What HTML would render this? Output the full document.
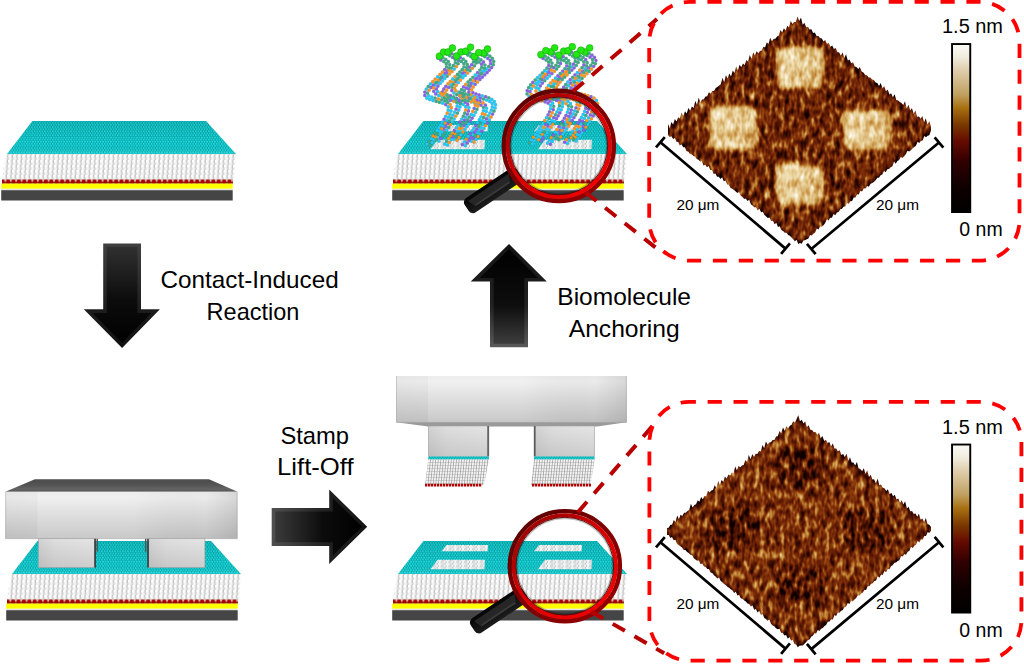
<!DOCTYPE html>
<html><head><meta charset="utf-8"><style>html,body{margin:0;padding:0;background:#fff;width:1024px;height:664px;overflow:hidden} svg{display:block}</style></head>
<body><svg width="1024" height="664" viewBox="0 0 1024 664"><defs>
<pattern id="tealPat" width="2.6" height="4.2" patternUnits="userSpaceOnUse">
  <rect width="2.6" height="4.2" fill="#089ea3"/>
  <circle cx="0.65" cy="1.05" r="1.05" fill="#12dadd"/>
  <circle cx="1.95" cy="3.15" r="1.05" fill="#12dadd"/>
  <circle cx="0.45" cy="0.8" r="0.4" fill="#60f0f2"/>
  <circle cx="1.75" cy="2.9" r="0.4" fill="#60f0f2"/>
</pattern>
<linearGradient id="sqG" x1="0" y1="0" x2="1" y2="0.6">
  <stop offset="0" stop-color="rgb(230,230,230)"/><stop offset="1" stop-color="rgb(200,200,200)"/>
</linearGradient>
<linearGradient id="tealShade" x1="0" y1="0" x2="0" y2="1">
  <stop offset="0" stop-color="#004040" stop-opacity="0.12"/><stop offset="0.7" stop-color="#004040" stop-opacity="0"/><stop offset="1" stop-color="#80ffff" stop-opacity="0.15"/>
</linearGradient>
<pattern id="whitePat" width="4.6" height="5" patternUnits="userSpaceOnUse" patternTransform="skewX(-4)">
  <rect width="4.6" height="5" fill="#dcdcdc"/>
  <circle cx="2.1" cy="1.25" r="1.6" fill="#ffffff"/>
  <circle cx="2.7" cy="3.75" r="1.6" fill="#f6f6f6"/>
  <path d="M0.3,0 L0.3,2.5" stroke="#999" stroke-width="0.5"/>
  <path d="M0.9,2.5 L0.9,5" stroke="#b0b0b0" stroke-width="0.5"/>
</pattern>
<pattern id="meshPat" width="2.6" height="3" patternUnits="userSpaceOnUse" patternTransform="skewX(-6)">
  <rect width="2.6" height="3" fill="#f4f4f4"/>
  <path d="M0.3,0 L0.3,3" stroke="#6a6a6a" stroke-width="0.5"/>
  <path d="M0,0.3 L2.6,0.3" stroke="#999" stroke-width="0.4"/>
</pattern>
<pattern id="patchPat" width="7.8" height="4.2" patternUnits="userSpaceOnUse">
  <rect width="7.8" height="4.2" fill="#9fb4b5"/>
  <circle cx="0.7" cy="1.0" r="1.35" fill="#f8f8f8"/>
  <circle cx="3.3" cy="1.2" r="1.35" fill="#f0f0f0"/>
  <circle cx="2.0" cy="3.1" r="1.35" fill="#fafafa"/>
  <circle cx="5.9" cy="0.9" r="1.3" fill="#e8e8e8"/>
  <circle cx="7.0" cy="3.0" r="1.3" fill="#f4f4f4"/>
  <circle cx="4.6" cy="3.2" r="1.2" fill="#dedede"/>
</pattern>
<pattern id="redPat" x="0" y="179.4" width="5.4" height="4.4" patternUnits="userSpaceOnUse">
  <rect width="5.4" height="4.4" fill="#e6e6e6"/>
  <rect y="2.5" width="5.4" height="1.9" fill="#6a5010"/>
  <circle cx="2.7" cy="2.4" r="2.3" fill="#a80000"/>
</pattern>

<linearGradient id="arrVo" x1="0" y1="0" x2="0" y2="1">
  <stop offset="0" stop-color="#404040"/><stop offset="0.6" stop-color="#1e1e1e"/><stop offset="1" stop-color="#111"/>
</linearGradient>
<linearGradient id="arrVi" x1="0" y1="0" x2="0" y2="1">
  <stop offset="0" stop-color="#303030"/><stop offset="0.55" stop-color="#0c0c0c"/><stop offset="1" stop-color="#000"/>
</linearGradient>
<linearGradient id="arrUo" x1="0" y1="1" x2="0" y2="0">
  <stop offset="0" stop-color="#5a5a5a"/><stop offset="0.4" stop-color="#222"/><stop offset="1" stop-color="#141414"/>
</linearGradient>
<linearGradient id="arrUi" x1="0" y1="1" x2="0" y2="0">
  <stop offset="0" stop-color="#3c3c3c"/><stop offset="0.4" stop-color="#0e0e0e"/><stop offset="1" stop-color="#000"/>
</linearGradient>
<linearGradient id="arrHo" x1="0" y1="0" x2="1" y2="0">
  <stop offset="0" stop-color="#505050"/><stop offset="0.55" stop-color="#222"/><stop offset="1" stop-color="#141414"/>
</linearGradient>
<linearGradient id="arrHi" x1="0" y1="0" x2="1" y2="0">
  <stop offset="0" stop-color="#3a3a3a"/><stop offset="0.55" stop-color="#0c0c0c"/><stop offset="1" stop-color="#000"/>
</linearGradient>

<linearGradient id="stampFace" x1="0" y1="0" x2="0" y2="1">
  <stop offset="0" stop-color="#ececec"/><stop offset="0.12" stop-color="#efefef"/><stop offset="0.45" stop-color="#dedede"/><stop offset="1" stop-color="#c4c4c4"/>
</linearGradient>
<linearGradient id="stampH" x1="0" y1="0" x2="1" y2="0">
  <stop offset="0" stop-color="#000" stop-opacity="0.03"/><stop offset="0.13" stop-color="#000" stop-opacity="0.02"/>
  <stop offset="0.14" stop-color="#fff" stop-opacity="0.08"/><stop offset="0.55" stop-color="#fff" stop-opacity="0.08"/>
  <stop offset="0.86" stop-color="#000" stop-opacity="0.02"/><stop offset="1" stop-color="#000" stop-opacity="0.1"/>
</linearGradient>
<linearGradient id="stampTop" x1="0" y1="0" x2="0" y2="1">
  <stop offset="0" stop-color="#4a4a4a"/><stop offset="0.5" stop-color="#555"/><stop offset="0.8" stop-color="#646464"/><stop offset="1" stop-color="#505050"/>
</linearGradient>
<linearGradient id="postG" x1="0" y1="0" x2="1" y2="0">
  <stop offset="0" stop-color="#d2d2d2"/><stop offset="0.3" stop-color="#dedede"/><stop offset="1" stop-color="#e4e4e4"/>
</linearGradient>
<linearGradient id="postV" x1="0" y1="0" x2="0" y2="1">
  <stop offset="0" stop-color="#000" stop-opacity="0"/><stop offset="1" stop-color="#000" stop-opacity="0.1"/>
</linearGradient>

<linearGradient id="ringO" x1="0.15" y1="0.1" x2="0.85" y2="0.9">
  <stop offset="0" stop-color="#5e0000"/><stop offset="0.5" stop-color="#7e0000"/><stop offset="1" stop-color="#900000"/>
</linearGradient>
<linearGradient id="ringI" x1="0.15" y1="0.1" x2="0.85" y2="0.9">
  <stop offset="0" stop-color="#a00000"/><stop offset="0.45" stop-color="#d80000"/><stop offset="1" stop-color="#f00000"/>
</linearGradient>
<linearGradient id="handleG" x1="0" y1="0" x2="0" y2="1">
  <stop offset="0" stop-color="#1c1c1c"/><stop offset="1" stop-color="#050505"/>
</linearGradient>

<linearGradient id="cbar" x1="0" y1="0" x2="0" y2="1"><stop offset="0" stop-color="rgb(252, 252, 248)"/><stop offset="0.08" stop-color="rgb(240, 235, 220)"/><stop offset="0.15" stop-color="rgb(224, 208, 176)"/><stop offset="0.3" stop-color="rgb(192, 160, 96)"/><stop offset="0.38" stop-color="rgb(168, 112, 16)"/><stop offset="0.48" stop-color="rgb(122, 56, 0)"/><stop offset="0.58" stop-color="rgb(100, 10, 0)"/><stop offset="0.7" stop-color="rgb(48, 0, 0)"/><stop offset="0.85" stop-color="rgb(16, 0, 0)"/><stop offset="1" stop-color="rgb(0, 0, 0)"/></linearGradient>

<filter id="afmMap" x="0" y="0" width="1" height="1" filterUnits="objectBoundingBox" color-interpolation-filters="sRGB">
  <feGaussianBlur in="SourceGraphic" stdDeviation="2.0" result="h"/>
  <feTurbulence type="fractalNoise" baseFrequency="0.2 0.1" numOctaves="2" seed="4" result="n"/>
  <feColorMatrix in="n" type="matrix" values="1 0 0 0 0  1 0 0 0 0  1 0 0 0 0  0 0 0 0 1" result="ng"/>
  <feComposite in="h" in2="ng" operator="arithmetic" k1="-1.626" k2="1.813" k3="1.833" k4="-0.9165" result="hn"/>
  <feComponentTransfer in="hn" result="col">
    <feFuncR type="table" tableValues="0.059 0.176 0.306 0.439 0.557 0.706 0.824 0.925 1.000"/>
    <feFuncG type="table" tableValues="0.000 0.031 0.078 0.141 0.243 0.451 0.647 0.843 0.980"/>
    <feFuncB type="table" tableValues="0.000 0.000 0.008 0.024 0.055 0.165 0.353 0.647 0.941"/>
    <feFuncA type="linear" slope="0" intercept="1"/>
  </feComponentTransfer>
  <feComposite in="col" in2="SourceAlpha" operator="in"/>
</filter>
</defs><rect width="1024" height="664" fill="#fff"/><g transform="translate(0,0)"><polygon points="32.4,121 206,121 236,154 7,154" fill="url(#tealPat)"/><polygon points="32.4,121 206,121 236,154 7,154" fill="url(#tealShade)"/><path d="M7,154 L236,154 L234,179.5 L2.5,179.5 Q3,166 7,154Z" fill="url(#whitePat)"/><rect x="2" y="179.4" width="231" height="4.4" fill="url(#redPat)"/><rect x="1.2" y="183.6" width="231.5" height="5.2" fill="#ffff00"/><rect x="1.2" y="188.8" width="231.5" height="1.4" fill="#e4e4e4"/><rect x="1.2" y="190.2" width="231.5" height="10.3" fill="#454545"/></g><g transform="translate(391,0)"><polygon points="32.4,121 206,121 236,154 7,154" fill="url(#tealPat)"/><polygon points="32.4,121 206,121 236,154 7,154" fill="url(#tealShade)"/><g fill="url(#patchPat)"><polygon points="55.5,125 97,125 96.5,131.3 50.5,131.3"/><polygon points="46.5,139.8 94,139.8 93.5,149.2 39.5,149.2"/><polygon points="148,125 191,125 190.5,131.3 143,131.3"/><polygon points="154,139.8 201,139.8 200.5,149.2 147,149.2"/></g><path d="M7,154 L236,154 L234,179.5 L2.5,179.5 Q3,166 7,154Z" fill="url(#whitePat)"/><rect x="2" y="179.4" width="231" height="4.4" fill="url(#redPat)"/><rect x="1.2" y="183.6" width="231.5" height="5.2" fill="#ffff00"/><rect x="1.2" y="188.8" width="231.5" height="1.4" fill="#e4e4e4"/><rect x="1.2" y="190.2" width="231.5" height="10.3" fill="#454545"/></g><g transform="translate(5,420)"><polygon points="32.4,121 206,121 236,154 7,154" fill="url(#tealPat)"/><polygon points="32.4,121 206,121 236,154 7,154" fill="url(#tealShade)"/><path d="M7,154 L236,154 L234,179.5 L2.5,179.5 Q3,166 7,154Z" fill="url(#whitePat)"/><rect x="2" y="179.4" width="231" height="4.4" fill="url(#redPat)"/><rect x="1.2" y="183.6" width="231.5" height="5.2" fill="#ffff00"/><rect x="1.2" y="188.8" width="231.5" height="1.4" fill="#e4e4e4"/><rect x="1.2" y="190.2" width="231.5" height="10.3" fill="#454545"/></g><g transform="translate(391,420)"><polygon points="32.4,121 206,121 236,154 7,154" fill="url(#tealPat)"/><polygon points="32.4,121 206,121 236,154 7,154" fill="url(#tealShade)"/><g fill="url(#patchPat)"><polygon points="55.5,125 97,125 96.5,131.3 50.5,131.3"/><polygon points="46.5,139.8 94,139.8 93.5,149.2 39.5,149.2"/><polygon points="148,125 191,125 190.5,131.3 143,131.3"/><polygon points="154,139.8 201,139.8 200.5,149.2 147,149.2"/></g><path d="M7,154 L236,154 L234,179.5 L2.5,179.5 Q3,166 7,154Z" fill="url(#whitePat)"/><rect x="2" y="179.4" width="231" height="4.4" fill="url(#redPat)"/><rect x="1.2" y="183.6" width="231.5" height="5.2" fill="#ffff00"/><rect x="1.2" y="188.8" width="231.5" height="1.4" fill="#e4e4e4"/><rect x="1.2" y="190.2" width="231.5" height="10.3" fill="#454545"/></g><polygon points="103.2,243.5 141.0,243.5 141.0,309.3 159.9,309.3 122.1,348.0 83.8,309.3 103.2,309.3" fill="url(#arrVo)"/><polygon points="106.8,247.1 137.4,247.1 137.4,312.9 151.4,312.9 122.1,342.9 92.4,312.9 106.8,312.9" fill="url(#arrVi)"/><polygon points="509.0,244.0 546.8,281.5 528.0,281.5 528.0,347.3 490.0,347.3 490.0,281.5 470.7,281.5" fill="url(#arrUo)"/><polygon points="509.0,249.1 538.1,277.9 524.4,277.9 524.4,343.7 493.6,343.7 493.6,277.9 479.5,277.9" fill="url(#arrUi)"/><polygon points="271.7,508.0 329.2,508.0 329.2,489.5 367.2,526.8 329.2,564.0 329.2,545.9 271.7,545.9" fill="url(#arrHo)"/><polygon points="275.3,511.6 332.8,511.6 332.8,498.1 362.1,526.8 332.8,555.4 332.8,542.3 275.3,542.3" fill="url(#arrHi)"/><g font-family="Liberation Sans, sans-serif" fill="#000"><text x="160.6" y="288.2" font-size="23.2" textLength="178.1" lengthAdjust="spacingAndGlyphs">Contact-Induced</text><text x="206.6" y="320.3" font-size="23.2" textLength="92.8" lengthAdjust="spacingAndGlyphs">Reaction</text><text x="557.3" y="305.4" font-size="23.2" textLength="133.7" lengthAdjust="spacingAndGlyphs">Biomolecule</text><text x="568.7" y="336.6" font-size="23.2" textLength="111" lengthAdjust="spacingAndGlyphs">Anchoring</text><text x="280.4" y="444" font-size="23.2" textLength="68.6" lengthAdjust="spacingAndGlyphs">Stamp</text><text x="277" y="475.4" font-size="23.2" textLength="76.6" lengthAdjust="spacingAndGlyphs">Lift-Off</text></g><polygon points="34.9,479.2 209,479.2 237.5,491.8 5.3,491.8" fill="url(#stampTop)"/><path d="M34.9,479.6 L209,479.6" stroke="#777" stroke-width="0.8"/><rect x="5.3" y="491.8" width="232.2" height="46.9" fill="url(#stampFace)"/><rect x="5.3" y="491.8" width="232.2" height="46.9" fill="url(#stampH)"/><path d="M5.7,491.8 L5.7,538.7 L237.1,538.7 L237.1,491.8" fill="none" stroke="#a0a0a0" stroke-width="0.8" stroke-opacity="0.6"/><rect x="38.5" y="538.7" width="55.8" height="28.8" fill="url(#postG)"/><rect x="38.5" y="538.7" width="55.8" height="28.8" fill="url(#postV)"/><rect x="38.5" y="538.7" width="55.8" height="28.8" fill="none" stroke="#a0a0a0" stroke-width="0.6"/><rect x="148.8" y="538.7" width="56.1" height="28.8" fill="url(#postG)"/><rect x="148.8" y="538.7" width="56.1" height="28.8" fill="url(#postV)"/><rect x="148.8" y="538.7" width="56.1" height="28.8" fill="none" stroke="#a0a0a0" stroke-width="0.6"/><rect x="94.3" y="538.7" width="1.6" height="28.8" fill="#3a3a3a"/><rect x="96.5" y="538.7" width="1.4" height="13" fill="#555"/><rect x="147.2" y="538.7" width="1.6" height="28.8" fill="#3a3a3a"/><rect x="145" y="538.7" width="1.4" height="13" fill="#555"/><rect x="396.1" y="376" width="230.7" height="46.4" fill="url(#stampFace)"/><rect x="396.1" y="376" width="230.7" height="46.4" fill="url(#stampH)"/><path d="M396.5,376 L396.5,422.4 L626.4,422.4 L626.4,376" fill="none" stroke="#a0a0a0" stroke-width="0.8" stroke-opacity="0.6"/><polygon points="396.1,422.2 626.8,422.2 597,426.5 428,426.5" fill="#9a9a9a"/><rect x="428.3" y="426" width="60.6" height="30.5" fill="url(#postG)"/><rect x="428.3" y="426" width="60.6" height="30.5" fill="url(#postV)"/><rect x="428.3" y="426" width="60.6" height="30.5" fill="none" stroke="#a0a0a0" stroke-width="0.6"/><rect x="534" y="426" width="60.6" height="30.5" fill="url(#postG)"/><rect x="534" y="426" width="60.6" height="30.5" fill="url(#postV)"/><rect x="534" y="426" width="60.6" height="30.5" fill="none" stroke="#a0a0a0" stroke-width="0.6"/><rect x="487.3" y="426" width="1.6" height="30.5" fill="#5a5a5a"/><rect x="534" y="426" width="1.6" height="30.5" fill="#5a5a5a"/><rect x="428.3" y="456.5" width="60.6" height="3" fill="url(#tealPat)"/><polygon points="428.3,459.5 489,459.5 484,485 425,485" fill="url(#meshPat)"/><path d="M425,485.2 H482" stroke="#b00000" stroke-width="2.8" stroke-dasharray="2.3 0.7"/><rect x="534" y="456.5" width="60.6" height="3" fill="url(#tealPat)"/><polygon points="534,459.5 594.6,459.5 590.5,485 531,485" fill="url(#meshPat)"/><path d="M532,485.2 H591" stroke="#b00000" stroke-width="2.8" stroke-dasharray="2.3 0.7"/><path d="M443.0 75.6h0M428.8 95.8h0M431.9 97.2h0M451.0 111.0h0M449.9 114.2h0M448.5 117.2h0M446.9 120.2h0M443.4 125.9h0M439.7 131.5h0M433.9 139.7h0M431.9 142.4h0M437.6 76.8h0M430.5 83.9h0M426.3 89.1h0M426.8 98.0h0M429.8 99.5h0M433.0 100.5h0M442.6 103.2h0M448.2 106.8h0M448.2 110.1h0M445.7 116.3h0M442.4 122.1h0M440.6 124.9h0M438.8 127.7h0M436.9 130.4h0M431.0 138.6h0M427.2 144.1h0M454.2 69.1h0M444.7 78.5h0M442.3 80.9h0M440.1 83.4h0M437.7 91.7h0M459.9 106.9h0M458.8 110.1h0M454.1 119.0h0M452.3 121.8h0M446.7 130.1h0M438.9 141.0h0M444.1 75.0h0M435.2 85.0h0M438.7 95.4h0M441.9 96.4h0M451.6 99.1h0M454.6 100.5h0M457.1 102.7h0M457.2 106.0h0M454.6 112.1h0M453.0 115.1h0M441.9 131.8h0M440.0 134.5h0M438.0 137.3h0M460.5 75.5h0M458.1 77.9h0M450.9 84.9h0M446.4 95.7h0M452.6 98.0h0M459.1 99.8h0M468.9 107.6h0M466.0 117.2h0M457.2 131.4h0M451.4 139.6h0M447.5 145.0h0M452.7 79.0h0M463.2 104.5h0M465.7 106.7h0M461.7 119.1h0M458.1 124.8h0M456.3 127.6h0M444.7 144.0h0M465.2 75.4h0M462.8 77.7h0M458.2 82.6h0M458.9 92.2h0M471.8 96.0h0M477.3 99.7h0M475.5 112.3h0M473.9 115.3h0M468.6 123.8h0M466.7 126.5h0M464.8 129.3h0M460.9 134.7h0M462.2 74.2h0M453.9 93.0h0M472.7 99.6h0M471.2 114.3h0M460.0 131.0h0M454.2 139.2h0M482.7 71.2h0M478.2 76.1h0M464.1 96.3h0M486.6 108.2h0M486.2 111.5h0M482.1 120.7h0M473.0 134.7h0M465.2 145.6h0M475.3 75.0h0M474.7 102.8h0M477.9 103.7h0M483.5 110.6h0M481.0 116.8h0M479.4 119.7h0M477.6 122.6h0M474.0 128.2h0M472.1 130.9h0M468.2 136.4h0M464.3 141.9h0M482.4 95.8h0M491.8 99.3h0M494.3 101.5h0M495.5 104.6h0M495.1 107.9h0M489.3 119.9h0M483.8 128.3h0M479.9 133.8h0M476.0 139.2h0M486.5 69.0h0M484.1 71.3h0M472.4 83.3h0M473.9 96.3h0M477.1 97.4h0M486.7 100.1h0M489.8 101.4h0M492.2 103.6h0M492.3 106.9h0M491.3 110.1h0M489.8 113.1h0M488.2 116.0h0M484.7 121.7h0M482.8 124.5h0M480.9 127.3h0M479.0 130.0h0M477.1 132.8h0M471.3 141.0h0" stroke="#334" stroke-opacity="0.3" stroke-width="3.7" stroke-linecap="round" fill="none"/><path d="M447.5 70.7h0M445.3 73.2h0M433.4 85.0h0M431.2 87.5h0M440.8 59.9h0M444.6 69.6h0M424.8 92.1h0M424.8 95.4h0M445.7 104.6h0M444.1 119.2h0M451.8 53.6h0M458.6 60.5h0M438.0 86.0h0M436.4 89.0h0M450.5 95.7h0M456.7 98.3h0M459.1 100.5h0M440.8 138.3h0M452.7 57.4h0M446.5 72.7h0M441.7 77.4h0M439.4 79.8h0M433.7 91.3h0M435.7 93.9h0M456.1 109.1h0M447.7 123.6h0M445.8 126.3h0M443.8 129.1h0M460.4 57.6h0M462.8 73.1h0M448.7 87.4h0M465.3 102.3h0M467.7 104.5h0M468.5 110.9h0M467.4 114.1h0M464.4 120.1h0M453.3 136.9h0M455.5 58.1h0M445.8 86.3h0M443.8 89.0h0M442.3 92.0h0M450.5 100.4h0M460.2 103.1h0M459.9 122.0h0M454.4 130.3h0M462.1 93.2h0M472.2 118.1h0M470.4 121.0h0M473.3 58.7h0M471.7 64.7h0M469.4 67.2h0M464.7 71.9h0M455.3 81.5h0M451.8 90.5h0M469.7 98.3h0M474.2 108.3h0M463.9 125.5h0M483.5 62.0h0M475.8 78.5h0M471.0 83.1h0M466.4 88.0h0M467.1 97.7h0M476.8 100.3h0M480.0 101.4h0M485.5 105.1h0M476.8 129.2h0M474.9 132.0h0M471.1 137.5h0M469.1 140.2h0M467.1 142.9h0M473.2 58.7h0M481.5 64.2h0M477.6 72.6h0M463.5 86.9h0M460.0 95.9h0M480.9 105.1h0M475.8 125.4h0M470.2 133.7h0M462.4 144.6h0M491.6 67.5h0M489.4 70.1h0M487.1 72.5h0M484.7 74.8h0M482.3 77.2h0M479.9 79.5h0M475.2 84.3h0M472.9 92.7h0M476.0 94.0h0M479.2 95.0h0M485.7 96.7h0M492.6 114.1h0M487.5 122.8h0M481.8 131.1h0M487.8 58.3h0M490.3 60.5h0M490.6 63.7h0M479.3 76.0h0M476.9 78.3h0M474.6 80.7h0M470.4 86.0h0M468.9 88.9h0M468.8 92.2h0M480.3 98.2h0M486.5 118.9h0M473.2 138.2h0" stroke="#334" stroke-opacity="0.3" stroke-width="3.7" stroke-linecap="round" fill="none"/><path d="M438.2 80.3h0M429.1 90.1h0M438.4 99.0h0M450.2 104.6h0M451.4 107.7h0M445.2 123.1h0M441.6 128.7h0M435.8 137.0h0M442.4 72.1h0M440.0 74.5h0M435.2 79.1h0M432.8 81.5h0M447.2 113.2h0M433.0 135.9h0M456.4 66.6h0M451.9 71.5h0M449.5 73.9h0M440.8 93.1h0M444.0 94.0h0M455.8 116.1h0M450.5 124.6h0M448.9 70.4h0M433.7 88.0h0M445.1 97.3h0M465.0 70.6h0M453.3 82.5h0M446.6 90.0h0M445.1 93.0h0M459.1 128.6h0M455.3 134.1h0M449.4 142.3h0M455.1 76.7h0M450.3 81.4h0M448.0 83.8h0M442.3 95.3h0M453.7 101.3h0M465.8 110.0h0M452.5 133.1h0M450.5 135.8h0M448.6 138.5h0M472.3 68.3h0M467.6 73.1h0M460.5 80.1h0M456.1 85.2h0M454.6 88.2h0M455.9 90.9h0M474.8 97.5h0M478.4 102.8h0M478.0 106.1h0M462.9 132.0h0M459.0 137.5h0M457.0 140.2h0M460.0 95.6h0M466.5 97.3h0M475.2 101.9h0M475.3 105.1h0M472.8 111.3h0M462.0 128.3h0M473.4 80.8h0M473.6 99.5h0M483.0 102.9h0M485.1 114.7h0M465.7 84.4h0M462.1 98.5h0M471.4 101.9h0M482.4 113.7h0M466.3 139.1h0M477.5 81.9h0M473.2 87.0h0M471.6 89.9h0M491.0 117.0h0M485.6 125.6h0M478.0 136.5h0M474.1 142.0h0M470.9 94.8h0" stroke="#334" stroke-opacity="0.3" stroke-width="3.7" stroke-linecap="round" fill="none"/><path d="M440.0 56.1h0M442.9 57.7h0M445.8 59.3h0M448.3 61.5h0M449.7 64.6h0M449.2 67.8h0M440.6 78.0h0M435.8 82.6h0M427.5 93.1h0M435.1 98.1h0M441.6 99.8h0M444.8 100.9h0M447.7 102.4h0M437.8 134.2h0M430.0 145.1h0M438.0 58.2h0M443.8 61.5h0M446.3 63.7h0M446.5 66.9h0M428.3 86.4h0M436.2 101.4h0M439.4 102.3h0M434.9 133.2h0M429.1 141.4h0M448.9 52.0h0M454.7 55.2h0M457.2 57.4h0M458.1 63.7h0M447.1 76.2h0M447.3 94.9h0M453.7 96.8h0M460.3 103.6h0M457.4 113.1h0M448.6 127.4h0M444.7 132.9h0M442.8 135.6h0M446.9 54.1h0M449.7 55.8h0M455.2 59.6h0M455.4 62.7h0M453.5 65.5h0M451.3 68.0h0M437.2 82.3h0M448.4 98.1h0M451.3 118.0h0M449.5 120.8h0M436.1 140.0h0M457.5 56.0h0M463.3 59.2h0M465.8 61.4h0M467.2 64.5h0M466.8 67.7h0M455.7 80.2h0M449.4 97.1h0M455.9 98.9h0M462.3 100.8h0M462.7 123.0h0M460.9 125.8h0M458.3 59.8h0M461.3 61.4h0M463.8 63.6h0M464.0 66.8h0M462.2 69.5h0M459.9 72.0h0M457.5 74.4h0M444.3 97.9h0M447.3 99.4h0M457.0 102.2h0M464.7 113.1h0M463.3 116.2h0M446.6 141.3h0M467.0 51.1h0M469.9 52.8h0M472.8 54.4h0M475.3 56.6h0M476.7 59.6h0M476.3 62.9h0M474.5 65.8h0M470.0 70.7h0M465.4 94.0h0M468.6 94.9h0M476.9 109.3h0M465.0 53.2h0M467.8 55.0h0M470.8 56.5h0M473.5 61.9h0M467.1 69.6h0M459.9 76.6h0M457.5 79.0h0M453.3 84.2h0M451.9 87.2h0M456.8 94.6h0M463.2 96.5h0M469.4 117.1h0M467.6 120.0h0M465.8 122.8h0M458.1 133.7h0M456.1 136.4h0M475.2 56.6h0M478.1 58.2h0M481.0 59.8h0M484.9 65.1h0M484.5 68.3h0M480.5 73.7h0M468.7 85.5h0M464.3 90.6h0M462.8 93.6h0M470.3 98.6h0M483.7 117.7h0M480.4 123.6h0M478.6 126.4h0M476.0 60.4h0M479.0 62.0h0M481.7 67.4h0M479.9 70.1h0M472.9 77.3h0M470.4 79.6h0M468.1 82.0h0M461.5 89.6h0M460.0 92.6h0M465.0 100.0h0M468.2 101.0h0M483.4 107.3h0M484.0 52.9h0M487.0 54.5h0M489.9 56.2h0M492.4 58.4h0M493.7 61.4h0M493.3 64.7h0M488.8 97.8h0M494.0 111.1h0M482.0 55.0h0M484.9 56.7h0M488.7 66.5h0M481.7 73.7h0M483.5 99.1h0M475.1 135.5h0" stroke="#334" stroke-opacity="0.3" stroke-width="3.7" stroke-linecap="round" fill="none"/><path d="M443.0 75.6h0M428.8 95.8h0M431.9 97.2h0M451.0 111.0h0M449.9 114.2h0M448.5 117.2h0M446.9 120.2h0M443.4 125.9h0M439.7 131.5h0M433.9 139.7h0M431.9 142.4h0M437.6 76.8h0M430.5 83.9h0M426.3 89.1h0M426.8 98.0h0M429.8 99.5h0M433.0 100.5h0M442.6 103.2h0M448.2 106.8h0M448.2 110.1h0M445.7 116.3h0M442.4 122.1h0M440.6 124.9h0M438.8 127.7h0M436.9 130.4h0M431.0 138.6h0M427.2 144.1h0M454.2 69.1h0M444.7 78.5h0M442.3 80.9h0M440.1 83.4h0M437.7 91.7h0M459.9 106.9h0M458.8 110.1h0M454.1 119.0h0M452.3 121.8h0M446.7 130.1h0M438.9 141.0h0M444.1 75.0h0M435.2 85.0h0M438.7 95.4h0M441.9 96.4h0M451.6 99.1h0M454.6 100.5h0M457.1 102.7h0M457.2 106.0h0M454.6 112.1h0M453.0 115.1h0M441.9 131.8h0M440.0 134.5h0M438.0 137.3h0M460.5 75.5h0M458.1 77.9h0M450.9 84.9h0M446.4 95.7h0M452.6 98.0h0M459.1 99.8h0M468.9 107.6h0M466.0 117.2h0M457.2 131.4h0M451.4 139.6h0M447.5 145.0h0M452.7 79.0h0M463.2 104.5h0M465.7 106.7h0M461.7 119.1h0M458.1 124.8h0M456.3 127.6h0M444.7 144.0h0M465.2 75.4h0M462.8 77.7h0M458.2 82.6h0M458.9 92.2h0M471.8 96.0h0M477.3 99.7h0M475.5 112.3h0M473.9 115.3h0M468.6 123.8h0M466.7 126.5h0M464.8 129.3h0M460.9 134.7h0M462.2 74.2h0M453.9 93.0h0M472.7 99.6h0M471.2 114.3h0M460.0 131.0h0M454.2 139.2h0M482.7 71.2h0M478.2 76.1h0M464.1 96.3h0M486.6 108.2h0M486.2 111.5h0M482.1 120.7h0M473.0 134.7h0M465.2 145.6h0M475.3 75.0h0M474.7 102.8h0M477.9 103.7h0M483.5 110.6h0M481.0 116.8h0M479.4 119.7h0M477.6 122.6h0M474.0 128.2h0M472.1 130.9h0M468.2 136.4h0M464.3 141.9h0M482.4 95.8h0M491.8 99.3h0M494.3 101.5h0M495.5 104.6h0M495.1 107.9h0M489.3 119.9h0M483.8 128.3h0M479.9 133.8h0M476.0 139.2h0M486.5 69.0h0M484.1 71.3h0M472.4 83.3h0M473.9 96.3h0M477.1 97.4h0M486.7 100.1h0M489.8 101.4h0M492.2 103.6h0M492.3 106.9h0M491.3 110.1h0M489.8 113.1h0M488.2 116.0h0M484.7 121.7h0M482.8 124.5h0M480.9 127.3h0M479.0 130.0h0M477.1 132.8h0M471.3 141.0h0" stroke="#20c8f6" stroke-width="3.3" stroke-linecap="round" fill="none"/><path d="M447.5 70.7h0M445.3 73.2h0M433.4 85.0h0M431.2 87.5h0M440.8 59.9h0M444.6 69.6h0M424.8 92.1h0M424.8 95.4h0M445.7 104.6h0M444.1 119.2h0M451.8 53.6h0M458.6 60.5h0M438.0 86.0h0M436.4 89.0h0M450.5 95.7h0M456.7 98.3h0M459.1 100.5h0M440.8 138.3h0M452.7 57.4h0M446.5 72.7h0M441.7 77.4h0M439.4 79.8h0M433.7 91.3h0M435.7 93.9h0M456.1 109.1h0M447.7 123.6h0M445.8 126.3h0M443.8 129.1h0M460.4 57.6h0M462.8 73.1h0M448.7 87.4h0M465.3 102.3h0M467.7 104.5h0M468.5 110.9h0M467.4 114.1h0M464.4 120.1h0M453.3 136.9h0M455.5 58.1h0M445.8 86.3h0M443.8 89.0h0M442.3 92.0h0M450.5 100.4h0M460.2 103.1h0M459.9 122.0h0M454.4 130.3h0M462.1 93.2h0M472.2 118.1h0M470.4 121.0h0M473.3 58.7h0M471.7 64.7h0M469.4 67.2h0M464.7 71.9h0M455.3 81.5h0M451.8 90.5h0M469.7 98.3h0M474.2 108.3h0M463.9 125.5h0M483.5 62.0h0M475.8 78.5h0M471.0 83.1h0M466.4 88.0h0M467.1 97.7h0M476.8 100.3h0M480.0 101.4h0M485.5 105.1h0M476.8 129.2h0M474.9 132.0h0M471.1 137.5h0M469.1 140.2h0M467.1 142.9h0M473.2 58.7h0M481.5 64.2h0M477.6 72.6h0M463.5 86.9h0M460.0 95.9h0M480.9 105.1h0M475.8 125.4h0M470.2 133.7h0M462.4 144.6h0M491.6 67.5h0M489.4 70.1h0M487.1 72.5h0M484.7 74.8h0M482.3 77.2h0M479.9 79.5h0M475.2 84.3h0M472.9 92.7h0M476.0 94.0h0M479.2 95.0h0M485.7 96.7h0M492.6 114.1h0M487.5 122.8h0M481.8 131.1h0M487.8 58.3h0M490.3 60.5h0M490.6 63.7h0M479.3 76.0h0M476.9 78.3h0M474.6 80.7h0M470.4 86.0h0M468.9 88.9h0M468.8 92.2h0M480.3 98.2h0M486.5 118.9h0M473.2 138.2h0" stroke="#8862e4" stroke-width="3.3" stroke-linecap="round" fill="none"/><path d="M438.2 80.3h0M429.1 90.1h0M438.4 99.0h0M450.2 104.6h0M451.4 107.7h0M445.2 123.1h0M441.6 128.7h0M435.8 137.0h0M442.4 72.1h0M440.0 74.5h0M435.2 79.1h0M432.8 81.5h0M447.2 113.2h0M433.0 135.9h0M456.4 66.6h0M451.9 71.5h0M449.5 73.9h0M440.8 93.1h0M444.0 94.0h0M455.8 116.1h0M450.5 124.6h0M448.9 70.4h0M433.7 88.0h0M445.1 97.3h0M465.0 70.6h0M453.3 82.5h0M446.6 90.0h0M445.1 93.0h0M459.1 128.6h0M455.3 134.1h0M449.4 142.3h0M455.1 76.7h0M450.3 81.4h0M448.0 83.8h0M442.3 95.3h0M453.7 101.3h0M465.8 110.0h0M452.5 133.1h0M450.5 135.8h0M448.6 138.5h0M472.3 68.3h0M467.6 73.1h0M460.5 80.1h0M456.1 85.2h0M454.6 88.2h0M455.9 90.9h0M474.8 97.5h0M478.4 102.8h0M478.0 106.1h0M462.9 132.0h0M459.0 137.5h0M457.0 140.2h0M460.0 95.6h0M466.5 97.3h0M475.2 101.9h0M475.3 105.1h0M472.8 111.3h0M462.0 128.3h0M473.4 80.8h0M473.6 99.5h0M483.0 102.9h0M485.1 114.7h0M465.7 84.4h0M462.1 98.5h0M471.4 101.9h0M482.4 113.7h0M466.3 139.1h0M477.5 81.9h0M473.2 87.0h0M471.6 89.9h0M491.0 117.0h0M485.6 125.6h0M478.0 136.5h0M474.1 142.0h0M470.9 94.8h0" stroke="#f7941d" stroke-width="3.3" stroke-linecap="round" fill="none"/><path d="M440.0 56.1h0M442.9 57.7h0M445.8 59.3h0M448.3 61.5h0M449.7 64.6h0M449.2 67.8h0M440.6 78.0h0M435.8 82.6h0M427.5 93.1h0M435.1 98.1h0M441.6 99.8h0M444.8 100.9h0M447.7 102.4h0M437.8 134.2h0M430.0 145.1h0M438.0 58.2h0M443.8 61.5h0M446.3 63.7h0M446.5 66.9h0M428.3 86.4h0M436.2 101.4h0M439.4 102.3h0M434.9 133.2h0M429.1 141.4h0M448.9 52.0h0M454.7 55.2h0M457.2 57.4h0M458.1 63.7h0M447.1 76.2h0M447.3 94.9h0M453.7 96.8h0M460.3 103.6h0M457.4 113.1h0M448.6 127.4h0M444.7 132.9h0M442.8 135.6h0M446.9 54.1h0M449.7 55.8h0M455.2 59.6h0M455.4 62.7h0M453.5 65.5h0M451.3 68.0h0M437.2 82.3h0M448.4 98.1h0M451.3 118.0h0M449.5 120.8h0M436.1 140.0h0M457.5 56.0h0M463.3 59.2h0M465.8 61.4h0M467.2 64.5h0M466.8 67.7h0M455.7 80.2h0M449.4 97.1h0M455.9 98.9h0M462.3 100.8h0M462.7 123.0h0M460.9 125.8h0M458.3 59.8h0M461.3 61.4h0M463.8 63.6h0M464.0 66.8h0M462.2 69.5h0M459.9 72.0h0M457.5 74.4h0M444.3 97.9h0M447.3 99.4h0M457.0 102.2h0M464.7 113.1h0M463.3 116.2h0M446.6 141.3h0M467.0 51.1h0M469.9 52.8h0M472.8 54.4h0M475.3 56.6h0M476.7 59.6h0M476.3 62.9h0M474.5 65.8h0M470.0 70.7h0M465.4 94.0h0M468.6 94.9h0M476.9 109.3h0M465.0 53.2h0M467.8 55.0h0M470.8 56.5h0M473.5 61.9h0M467.1 69.6h0M459.9 76.6h0M457.5 79.0h0M453.3 84.2h0M451.9 87.2h0M456.8 94.6h0M463.2 96.5h0M469.4 117.1h0M467.6 120.0h0M465.8 122.8h0M458.1 133.7h0M456.1 136.4h0M475.2 56.6h0M478.1 58.2h0M481.0 59.8h0M484.9 65.1h0M484.5 68.3h0M480.5 73.7h0M468.7 85.5h0M464.3 90.6h0M462.8 93.6h0M470.3 98.6h0M483.7 117.7h0M480.4 123.6h0M478.6 126.4h0M476.0 60.4h0M479.0 62.0h0M481.7 67.4h0M479.9 70.1h0M472.9 77.3h0M470.4 79.6h0M468.1 82.0h0M461.5 89.6h0M460.0 92.6h0M465.0 100.0h0M468.2 101.0h0M483.4 107.3h0M484.0 52.9h0M487.0 54.5h0M489.9 56.2h0M492.4 58.4h0M493.7 61.4h0M493.3 64.7h0M488.8 97.8h0M494.0 111.1h0M482.0 55.0h0M484.9 56.7h0M488.7 66.5h0M481.7 73.7h0M483.5 99.1h0M475.1 135.5h0" stroke="#3daa84" stroke-width="3.3" stroke-linecap="round" fill="none"/><circle cx="474.4" cy="56.6" r="3.4" fill="#22e812" stroke="#169a0c" stroke-width="0.5"/><circle cx="439.4" cy="56.1" r="3.4" fill="#22e812" stroke="#169a0c" stroke-width="0.5"/><circle cx="456.6" cy="56.0" r="3.4" fill="#22e812" stroke="#169a0c" stroke-width="0.5"/><circle cx="483.5" cy="53.0" r="3.4" fill="#22e812" stroke="#169a0c" stroke-width="0.5"/><circle cx="478.7" cy="52.6" r="3.4" fill="#22e812" stroke="#169a0c" stroke-width="0.5"/><circle cx="443.5" cy="52.1" r="3.4" fill="#22e812" stroke="#169a0c" stroke-width="0.5"/><circle cx="448.0" cy="52.0" r="3.4" fill="#22e812" stroke="#169a0c" stroke-width="0.5"/><circle cx="461.0" cy="52.0" r="3.4" fill="#22e812" stroke="#169a0c" stroke-width="0.5"/><circle cx="465.8" cy="51.2" r="3.4" fill="#22e812" stroke="#169a0c" stroke-width="0.5"/><circle cx="487.5" cy="49.0" r="3.4" fill="#22e812" stroke="#169a0c" stroke-width="0.5"/><circle cx="452.4" cy="48.0" r="3.4" fill="#22e812" stroke="#169a0c" stroke-width="0.5"/><circle cx="470.5" cy="47.2" r="3.4" fill="#22e812" stroke="#169a0c" stroke-width="0.5"/><path d="M547.6 71.8h0M538.1 81.2h0M535.8 83.6h0M531.4 88.7h0M552.6 103.2h0M547.5 121.6h0M542.0 130.0h0M540.1 132.8h0M538.2 135.5h0M536.2 138.2h0M534.2 140.9h0M532.3 143.7h0M544.7 70.6h0M540.0 75.3h0M537.5 77.7h0M529.2 96.5h0M550.5 105.3h0M550.6 108.6h0M546.5 117.7h0M542.9 123.4h0M541.1 126.2h0M539.2 129.0h0M537.3 131.7h0M535.3 134.4h0M531.4 139.9h0M549.5 75.9h0M547.1 78.3h0M538.8 88.7h0M540.1 91.5h0M549.6 94.6h0M559.0 98.0h0M561.5 100.3h0M562.7 103.4h0M562.3 106.7h0M561.2 109.8h0M554.7 121.5h0M549.0 129.9h0M547.1 132.6h0M545.2 135.3h0M539.6 82.0h0M537.6 84.7h0M536.1 87.7h0M544.3 96.2h0M547.5 97.0h0M550.7 97.9h0M553.9 98.9h0M557.0 100.2h0M558.5 108.9h0M557.0 111.9h0M551.9 120.5h0M550.0 123.3h0M546.2 128.8h0M540.4 137.0h0M553.7 84.0h0M547.8 92.1h0M549.1 94.8h0M568.0 101.4h0M570.5 103.7h0M565.5 122.1h0M561.8 127.7h0M558.0 133.2h0M554.1 138.7h0M552.2 141.4h0M555.5 78.2h0M548.6 85.4h0M562.9 102.3h0M568.5 109.1h0M567.5 112.2h0M555.2 132.2h0M549.4 140.4h0M547.5 143.1h0M567.2 93.5h0M570.4 94.4h0M573.6 95.5h0M566.6 128.8h0M564.6 131.5h0M562.7 134.2h0M571.2 66.7h0M564.0 73.7h0M555.1 83.7h0M553.6 90.0h0M558.6 94.1h0M565.0 96.0h0M571.5 97.8h0M574.5 99.1h0M577.0 101.4h0M574.6 110.8h0M573.0 113.8h0M571.2 116.6h0M569.4 119.5h0M565.7 125.0h0M557.9 135.9h0M584.9 68.8h0M573.2 80.8h0M568.6 85.6h0M582.2 99.0h0M585.2 100.5h0M587.6 102.8h0M584.3 118.3h0M580.8 124.0h0M577.1 129.6h0M569.3 140.5h0M567.4 143.3h0M577.4 72.6h0M567.9 82.0h0M562.2 90.2h0M580.1 101.3h0M584.6 111.3h0M583.2 114.4h0M581.5 117.3h0M572.4 131.3h0M570.4 134.0h0M579.6 80.8h0M578.1 92.9h0M596.4 100.4h0M597.2 106.8h0M596.1 110.0h0M594.7 113.0h0M589.6 121.7h0M587.8 124.5h0M582.0 132.7h0M580.1 135.4h0M578.1 138.2h0M576.2 140.9h0M576.7 79.6h0M571.0 91.1h0M591.9 100.3h0M594.4 102.5h0M588.6 117.8h0M581.1 128.9h0M577.2 134.4h0" stroke="#334" stroke-opacity="0.3" stroke-width="3.7" stroke-linecap="round" fill="none"/><path d="M549.8 69.2h0M529.9 91.6h0M540.7 97.5h0M547.1 99.5h0M550.1 100.9h0M553.3 109.6h0M545.7 124.4h0M543.1 58.4h0M548.8 65.4h0M532.8 82.4h0M527.2 90.6h0M545.0 101.8h0M548.0 103.1h0M549.5 111.8h0M548.1 114.8h0M557.1 55.0h0M559.6 57.2h0M560.5 63.5h0M551.9 73.6h0M542.4 83.1h0M540.4 85.8h0M552.9 95.5h0M559.8 112.9h0M558.2 115.8h0M556.5 118.7h0M543.2 138.0h0M541.3 140.8h0M555.0 57.1h0M553.7 67.7h0M548.9 72.4h0M546.5 74.8h0M544.1 77.1h0M541.8 79.5h0M553.7 117.7h0M548.1 126.1h0M560.2 55.1h0M563.2 56.7h0M567.8 69.7h0M560.9 77.0h0M571.3 110.1h0M570.2 113.2h0M568.8 116.3h0M560.0 130.5h0M550.3 144.2h0M558.2 57.2h0M566.8 65.9h0M562.7 71.1h0M557.9 75.8h0M547.1 97.0h0M556.5 100.4h0M559.7 101.3h0M566.0 115.3h0M564.4 118.2h0M562.7 121.1h0M559.0 126.7h0M553.3 134.9h0M571.7 52.2h0M574.1 67.8h0M571.8 70.2h0M557.7 90.4h0M579.0 99.2h0M574.0 117.6h0M572.2 120.5h0M573.5 64.2h0M559.3 78.5h0M557.1 81.0h0M568.3 96.8h0M576.0 107.8h0M563.8 127.8h0M559.9 133.2h0M577.4 54.2h0M585.7 59.7h0M582.7 71.3h0M580.4 73.8h0M570.8 83.1h0M569.3 95.3h0M575.8 97.1h0M588.4 109.2h0M587.3 112.3h0M582.6 121.2h0M583.9 65.0h0M575.0 74.9h0M570.2 79.6h0M563.7 87.2h0M567.2 97.6h0M583.1 102.7h0M585.7 108.2h0M579.8 120.2h0M578.0 123.0h0M564.6 142.2h0M592.0 55.1h0M594.5 57.3h0M595.9 60.3h0M593.7 66.4h0M575.3 85.9h0M573.7 88.8h0M591.0 96.7h0M593.1 115.9h0M584.0 130.0h0M590.0 57.2h0M588.6 67.9h0M571.0 87.9h0M579.2 96.3h0M588.8 99.0h0M594.5 105.8h0M590.3 114.9h0M583.1 126.2h0M579.2 131.7h0" stroke="#334" stroke-opacity="0.3" stroke-width="3.7" stroke-linecap="round" fill="none"/><path d="M545.3 74.2h0M542.9 76.5h0M533.5 86.0h0M531.2 94.4h0M534.2 95.7h0M537.4 96.6h0M552.2 112.7h0M550.8 115.8h0M543.9 127.2h0M541.8 100.8h0M544.7 120.6h0M533.4 137.2h0M554.3 71.3h0M552.8 124.3h0M551.0 127.1h0M551.3 70.1h0M536.0 91.0h0M538.1 93.6h0M559.4 102.4h0M542.3 134.3h0M538.5 139.7h0M565.6 72.3h0M563.3 74.7h0M556.1 81.7h0M549.4 89.2h0M561.9 98.9h0M565.0 99.9h0M567.2 119.2h0M553.1 80.5h0M550.8 82.9h0M546.6 88.1h0M550.1 98.5h0M566.0 103.6h0M557.1 129.5h0M551.3 137.7h0M567.0 74.9h0M560.0 82.1h0M557.9 84.7h0M556.4 87.7h0M576.6 97.0h0M579.8 105.6h0M578.7 108.8h0M570.4 123.3h0M568.5 126.0h0M560.7 137.0h0M566.4 71.4h0M561.6 76.1h0M561.8 95.1h0M577.1 104.6h0M567.6 122.2h0M561.8 130.5h0M575.6 78.4h0M565.0 91.2h0M579.0 126.8h0M575.2 132.3h0M573.2 135.1h0M571.3 137.8h0M579.8 70.2h0M570.4 98.6h0M573.6 99.5h0M576.9 100.4h0M576.2 125.8h0M574.3 128.6h0M566.5 139.5h0M591.5 69.0h0M586.8 73.7h0M584.4 76.1h0M577.4 83.2h0M581.3 93.9h0M584.6 94.7h0M587.8 95.6h0M594.0 98.2h0M597.6 103.5h0M591.4 118.8h0M585.9 127.2h0M581.4 74.9h0M572.5 84.9h0M573.0 93.7h0M576.0 95.2h0M582.4 97.1h0M585.6 98.0h0M593.4 109.0h0M591.9 112.0h0M586.8 120.6h0M575.3 137.1h0" stroke="#334" stroke-opacity="0.3" stroke-width="3.7" stroke-linecap="round" fill="none"/><path d="M542.3 54.6h0M545.2 56.2h0M548.1 57.9h0M550.6 60.1h0M552.0 63.1h0M551.6 66.4h0M540.5 78.8h0M543.9 98.4h0M553.7 106.3h0M549.2 118.7h0M540.3 56.7h0M546.1 60.0h0M548.6 62.2h0M547.0 68.2h0M542.4 73.0h0M535.2 80.0h0M530.6 84.9h0M528.6 87.6h0M527.1 93.9h0M532.1 98.0h0M535.3 99.1h0M538.5 99.9h0M529.5 142.6h0M551.2 51.7h0M554.2 53.3h0M560.9 60.2h0M558.8 66.3h0M556.6 68.9h0M544.7 80.7h0M543.2 92.8h0M546.4 93.7h0M556.0 96.6h0M549.2 53.8h0M552.1 55.5h0M557.5 59.3h0M557.8 62.5h0M555.9 65.3h0M541.1 95.1h0M559.5 105.7h0M555.4 114.8h0M544.3 131.5h0M566.1 58.4h0M568.6 60.6h0M569.9 63.6h0M569.5 66.9h0M558.5 79.3h0M551.4 86.5h0M552.2 96.2h0M555.4 97.1h0M558.6 98.0h0M571.7 106.8h0M563.7 124.9h0M556.1 136.0h0M561.1 58.9h0M564.0 60.5h0M566.5 62.7h0M564.9 68.6h0M560.3 73.5h0M545.1 91.1h0M545.0 94.4h0M553.3 99.6h0M568.4 105.8h0M560.9 123.9h0M568.8 50.6h0M574.6 53.9h0M577.1 56.1h0M578.5 59.1h0M578.1 62.4h0M576.3 65.3h0M569.4 72.5h0M564.6 77.2h0M562.2 79.6h0M560.7 91.7h0M563.9 92.7h0M580.2 102.3h0M577.3 111.8h0M575.7 114.8h0M558.8 139.7h0M566.8 52.7h0M569.6 54.5h0M572.6 56.0h0M575.1 58.2h0M575.3 61.4h0M568.8 69.0h0M553.6 86.7h0M555.6 92.5h0M556.0 138.7h0M580.3 55.8h0M583.2 57.4h0M587.1 62.7h0M586.6 66.0h0M578.0 76.1h0M566.5 88.2h0M566.3 93.9h0M572.5 96.2h0M579.0 98.0h0M588.8 105.8h0M585.9 115.4h0M575.4 56.3h0M578.2 58.0h0M581.2 59.6h0M583.7 61.8h0M582.1 67.7h0M572.6 77.3h0M565.7 84.5h0M562.2 93.5h0M564.2 96.1h0M585.6 104.9h0M568.5 136.8h0M586.2 51.8h0M589.1 53.4h0M595.4 63.6h0M589.2 71.4h0M582.0 78.4h0M575.0 91.6h0M584.2 53.9h0M587.0 55.6h0M592.5 59.4h0M592.7 62.6h0M590.8 65.4h0M586.2 70.2h0M583.8 72.6h0M579.0 77.2h0M574.5 82.2h0M585.0 123.4h0M573.4 139.9h0" stroke="#334" stroke-opacity="0.3" stroke-width="3.7" stroke-linecap="round" fill="none"/><path d="M547.6 71.8h0M538.1 81.2h0M535.8 83.6h0M531.4 88.7h0M552.6 103.2h0M547.5 121.6h0M542.0 130.0h0M540.1 132.8h0M538.2 135.5h0M536.2 138.2h0M534.2 140.9h0M532.3 143.7h0M544.7 70.6h0M540.0 75.3h0M537.5 77.7h0M529.2 96.5h0M550.5 105.3h0M550.6 108.6h0M546.5 117.7h0M542.9 123.4h0M541.1 126.2h0M539.2 129.0h0M537.3 131.7h0M535.3 134.4h0M531.4 139.9h0M549.5 75.9h0M547.1 78.3h0M538.8 88.7h0M540.1 91.5h0M549.6 94.6h0M559.0 98.0h0M561.5 100.3h0M562.7 103.4h0M562.3 106.7h0M561.2 109.8h0M554.7 121.5h0M549.0 129.9h0M547.1 132.6h0M545.2 135.3h0M539.6 82.0h0M537.6 84.7h0M536.1 87.7h0M544.3 96.2h0M547.5 97.0h0M550.7 97.9h0M553.9 98.9h0M557.0 100.2h0M558.5 108.9h0M557.0 111.9h0M551.9 120.5h0M550.0 123.3h0M546.2 128.8h0M540.4 137.0h0M553.7 84.0h0M547.8 92.1h0M549.1 94.8h0M568.0 101.4h0M570.5 103.7h0M565.5 122.1h0M561.8 127.7h0M558.0 133.2h0M554.1 138.7h0M552.2 141.4h0M555.5 78.2h0M548.6 85.4h0M562.9 102.3h0M568.5 109.1h0M567.5 112.2h0M555.2 132.2h0M549.4 140.4h0M547.5 143.1h0M567.2 93.5h0M570.4 94.4h0M573.6 95.5h0M566.6 128.8h0M564.6 131.5h0M562.7 134.2h0M571.2 66.7h0M564.0 73.7h0M555.1 83.7h0M553.6 90.0h0M558.6 94.1h0M565.0 96.0h0M571.5 97.8h0M574.5 99.1h0M577.0 101.4h0M574.6 110.8h0M573.0 113.8h0M571.2 116.6h0M569.4 119.5h0M565.7 125.0h0M557.9 135.9h0M584.9 68.8h0M573.2 80.8h0M568.6 85.6h0M582.2 99.0h0M585.2 100.5h0M587.6 102.8h0M584.3 118.3h0M580.8 124.0h0M577.1 129.6h0M569.3 140.5h0M567.4 143.3h0M577.4 72.6h0M567.9 82.0h0M562.2 90.2h0M580.1 101.3h0M584.6 111.3h0M583.2 114.4h0M581.5 117.3h0M572.4 131.3h0M570.4 134.0h0M579.6 80.8h0M578.1 92.9h0M596.4 100.4h0M597.2 106.8h0M596.1 110.0h0M594.7 113.0h0M589.6 121.7h0M587.8 124.5h0M582.0 132.7h0M580.1 135.4h0M578.1 138.2h0M576.2 140.9h0M576.7 79.6h0M571.0 91.1h0M591.9 100.3h0M594.4 102.5h0M588.6 117.8h0M581.1 128.9h0M577.2 134.4h0" stroke="#20c8f6" stroke-width="3.3" stroke-linecap="round" fill="none"/><path d="M549.8 69.2h0M529.9 91.6h0M540.7 97.5h0M547.1 99.5h0M550.1 100.9h0M553.3 109.6h0M545.7 124.4h0M543.1 58.4h0M548.8 65.4h0M532.8 82.4h0M527.2 90.6h0M545.0 101.8h0M548.0 103.1h0M549.5 111.8h0M548.1 114.8h0M557.1 55.0h0M559.6 57.2h0M560.5 63.5h0M551.9 73.6h0M542.4 83.1h0M540.4 85.8h0M552.9 95.5h0M559.8 112.9h0M558.2 115.8h0M556.5 118.7h0M543.2 138.0h0M541.3 140.8h0M555.0 57.1h0M553.7 67.7h0M548.9 72.4h0M546.5 74.8h0M544.1 77.1h0M541.8 79.5h0M553.7 117.7h0M548.1 126.1h0M560.2 55.1h0M563.2 56.7h0M567.8 69.7h0M560.9 77.0h0M571.3 110.1h0M570.2 113.2h0M568.8 116.3h0M560.0 130.5h0M550.3 144.2h0M558.2 57.2h0M566.8 65.9h0M562.7 71.1h0M557.9 75.8h0M547.1 97.0h0M556.5 100.4h0M559.7 101.3h0M566.0 115.3h0M564.4 118.2h0M562.7 121.1h0M559.0 126.7h0M553.3 134.9h0M571.7 52.2h0M574.1 67.8h0M571.8 70.2h0M557.7 90.4h0M579.0 99.2h0M574.0 117.6h0M572.2 120.5h0M573.5 64.2h0M559.3 78.5h0M557.1 81.0h0M568.3 96.8h0M576.0 107.8h0M563.8 127.8h0M559.9 133.2h0M577.4 54.2h0M585.7 59.7h0M582.7 71.3h0M580.4 73.8h0M570.8 83.1h0M569.3 95.3h0M575.8 97.1h0M588.4 109.2h0M587.3 112.3h0M582.6 121.2h0M583.9 65.0h0M575.0 74.9h0M570.2 79.6h0M563.7 87.2h0M567.2 97.6h0M583.1 102.7h0M585.7 108.2h0M579.8 120.2h0M578.0 123.0h0M564.6 142.2h0M592.0 55.1h0M594.5 57.3h0M595.9 60.3h0M593.7 66.4h0M575.3 85.9h0M573.7 88.8h0M591.0 96.7h0M593.1 115.9h0M584.0 130.0h0M590.0 57.2h0M588.6 67.9h0M571.0 87.9h0M579.2 96.3h0M588.8 99.0h0M594.5 105.8h0M590.3 114.9h0M583.1 126.2h0M579.2 131.7h0" stroke="#8862e4" stroke-width="3.3" stroke-linecap="round" fill="none"/><path d="M545.3 74.2h0M542.9 76.5h0M533.5 86.0h0M531.2 94.4h0M534.2 95.7h0M537.4 96.6h0M552.2 112.7h0M550.8 115.8h0M543.9 127.2h0M541.8 100.8h0M544.7 120.6h0M533.4 137.2h0M554.3 71.3h0M552.8 124.3h0M551.0 127.1h0M551.3 70.1h0M536.0 91.0h0M538.1 93.6h0M559.4 102.4h0M542.3 134.3h0M538.5 139.7h0M565.6 72.3h0M563.3 74.7h0M556.1 81.7h0M549.4 89.2h0M561.9 98.9h0M565.0 99.9h0M567.2 119.2h0M553.1 80.5h0M550.8 82.9h0M546.6 88.1h0M550.1 98.5h0M566.0 103.6h0M557.1 129.5h0M551.3 137.7h0M567.0 74.9h0M560.0 82.1h0M557.9 84.7h0M556.4 87.7h0M576.6 97.0h0M579.8 105.6h0M578.7 108.8h0M570.4 123.3h0M568.5 126.0h0M560.7 137.0h0M566.4 71.4h0M561.6 76.1h0M561.8 95.1h0M577.1 104.6h0M567.6 122.2h0M561.8 130.5h0M575.6 78.4h0M565.0 91.2h0M579.0 126.8h0M575.2 132.3h0M573.2 135.1h0M571.3 137.8h0M579.8 70.2h0M570.4 98.6h0M573.6 99.5h0M576.9 100.4h0M576.2 125.8h0M574.3 128.6h0M566.5 139.5h0M591.5 69.0h0M586.8 73.7h0M584.4 76.1h0M577.4 83.2h0M581.3 93.9h0M584.6 94.7h0M587.8 95.6h0M594.0 98.2h0M597.6 103.5h0M591.4 118.8h0M585.9 127.2h0M581.4 74.9h0M572.5 84.9h0M573.0 93.7h0M576.0 95.2h0M582.4 97.1h0M585.6 98.0h0M593.4 109.0h0M591.9 112.0h0M586.8 120.6h0M575.3 137.1h0" stroke="#f7941d" stroke-width="3.3" stroke-linecap="round" fill="none"/><path d="M542.3 54.6h0M545.2 56.2h0M548.1 57.9h0M550.6 60.1h0M552.0 63.1h0M551.6 66.4h0M540.5 78.8h0M543.9 98.4h0M553.7 106.3h0M549.2 118.7h0M540.3 56.7h0M546.1 60.0h0M548.6 62.2h0M547.0 68.2h0M542.4 73.0h0M535.2 80.0h0M530.6 84.9h0M528.6 87.6h0M527.1 93.9h0M532.1 98.0h0M535.3 99.1h0M538.5 99.9h0M529.5 142.6h0M551.2 51.7h0M554.2 53.3h0M560.9 60.2h0M558.8 66.3h0M556.6 68.9h0M544.7 80.7h0M543.2 92.8h0M546.4 93.7h0M556.0 96.6h0M549.2 53.8h0M552.1 55.5h0M557.5 59.3h0M557.8 62.5h0M555.9 65.3h0M541.1 95.1h0M559.5 105.7h0M555.4 114.8h0M544.3 131.5h0M566.1 58.4h0M568.6 60.6h0M569.9 63.6h0M569.5 66.9h0M558.5 79.3h0M551.4 86.5h0M552.2 96.2h0M555.4 97.1h0M558.6 98.0h0M571.7 106.8h0M563.7 124.9h0M556.1 136.0h0M561.1 58.9h0M564.0 60.5h0M566.5 62.7h0M564.9 68.6h0M560.3 73.5h0M545.1 91.1h0M545.0 94.4h0M553.3 99.6h0M568.4 105.8h0M560.9 123.9h0M568.8 50.6h0M574.6 53.9h0M577.1 56.1h0M578.5 59.1h0M578.1 62.4h0M576.3 65.3h0M569.4 72.5h0M564.6 77.2h0M562.2 79.6h0M560.7 91.7h0M563.9 92.7h0M580.2 102.3h0M577.3 111.8h0M575.7 114.8h0M558.8 139.7h0M566.8 52.7h0M569.6 54.5h0M572.6 56.0h0M575.1 58.2h0M575.3 61.4h0M568.8 69.0h0M553.6 86.7h0M555.6 92.5h0M556.0 138.7h0M580.3 55.8h0M583.2 57.4h0M587.1 62.7h0M586.6 66.0h0M578.0 76.1h0M566.5 88.2h0M566.3 93.9h0M572.5 96.2h0M579.0 98.0h0M588.8 105.8h0M585.9 115.4h0M575.4 56.3h0M578.2 58.0h0M581.2 59.6h0M583.7 61.8h0M582.1 67.7h0M572.6 77.3h0M565.7 84.5h0M562.2 93.5h0M564.2 96.1h0M585.6 104.9h0M568.5 136.8h0M586.2 51.8h0M589.1 53.4h0M595.4 63.6h0M589.2 71.4h0M582.0 78.4h0M575.0 91.6h0M584.2 53.9h0M587.0 55.6h0M592.5 59.4h0M592.7 62.6h0M590.8 65.4h0M586.2 70.2h0M583.8 72.6h0M579.0 77.2h0M574.5 82.2h0M585.0 123.4h0M573.4 139.9h0" stroke="#3daa84" stroke-width="3.3" stroke-linecap="round" fill="none"/><circle cx="558.9" cy="55.1" r="3.4" fill="#22e812" stroke="#169a0c" stroke-width="0.5"/><circle cx="540.9" cy="54.6" r="3.4" fill="#22e812" stroke="#169a0c" stroke-width="0.5"/><circle cx="576.6" cy="54.2" r="3.4" fill="#22e812" stroke="#169a0c" stroke-width="0.5"/><circle cx="550.7" cy="51.8" r="3.4" fill="#22e812" stroke="#169a0c" stroke-width="0.5"/><circle cx="584.8" cy="51.9" r="3.4" fill="#22e812" stroke="#169a0c" stroke-width="0.5"/><circle cx="563.7" cy="51.1" r="3.4" fill="#22e812" stroke="#169a0c" stroke-width="0.5"/><circle cx="545.8" cy="50.6" r="3.4" fill="#22e812" stroke="#169a0c" stroke-width="0.5"/><circle cx="568.0" cy="50.7" r="3.4" fill="#22e812" stroke="#169a0c" stroke-width="0.5"/><circle cx="580.9" cy="50.2" r="3.4" fill="#22e812" stroke="#169a0c" stroke-width="0.5"/><circle cx="554.7" cy="47.8" r="3.4" fill="#22e812" stroke="#169a0c" stroke-width="0.5"/><circle cx="589.7" cy="47.9" r="3.4" fill="#22e812" stroke="#169a0c" stroke-width="0.5"/><circle cx="572.3" cy="46.7" r="3.4" fill="#22e812" stroke="#169a0c" stroke-width="0.5"/><g transform="translate(558.8,145.9) rotate(146)"><rect x="48" y="-8.6" width="63" height="17.2" rx="5" fill="url(#handleG)"/><polygon points="61,-3.4 103,-3.4 106,5 57,5" fill="#262626"/><polygon points="61,-3.4 103,-3.4 101,-1.6 62,-1.6" fill="#3a3a3a"/></g><circle cx="558.8" cy="145.9" r="47.9" fill="none" stroke="#000" stroke-opacity="0.25" stroke-width="2"/><circle cx="558.8" cy="145.9" r="55.1" fill="none" stroke="url(#ringO)" stroke-width="4.4"/><circle cx="558.8" cy="145.9" r="51.0" fill="none" stroke="url(#ringI)" stroke-width="4.0"/><circle cx="558.8" cy="145.9" r="48.9" fill="none" stroke="#5a0000" stroke-width="0.9"/><g transform="translate(564.8,566.2) rotate(146)"><rect x="48" y="-8.6" width="63" height="17.2" rx="5" fill="url(#handleG)"/><polygon points="61,-3.4 103,-3.4 106,5 57,5" fill="#262626"/><polygon points="61,-3.4 103,-3.4 101,-1.6 62,-1.6" fill="#3a3a3a"/></g><circle cx="564.8" cy="566.2" r="47.9" fill="none" stroke="#000" stroke-opacity="0.25" stroke-width="2"/><circle cx="564.8" cy="566.2" r="55.1" fill="none" stroke="url(#ringO)" stroke-width="4.4"/><circle cx="564.8" cy="566.2" r="51.0" fill="none" stroke="url(#ringI)" stroke-width="4.0"/><circle cx="564.8" cy="566.2" r="48.9" fill="none" stroke="#5a0000" stroke-width="0.9"/><path d="M573,91.5 L657,19" stroke="#b80000" stroke-width="4" stroke-dasharray="14 11" fill="none"/><path d="M585.5,192.3 L656.6,248.4" stroke="#b80000" stroke-width="4" stroke-dasharray="14 11" fill="none"/><path d="M577.8,512.4 L653.2,425.2" stroke="#b80000" stroke-width="4" stroke-dasharray="14 11" fill="none"/><path d="M591,611.5 L664.2,653.2" stroke="#b80000" stroke-width="4" stroke-dasharray="14 11" fill="none"/><rect x="649.2" y="1.9" width="370.3" height="258.8" rx="40" fill="none" stroke="#ff0000" stroke-width="3.8" stroke-dasharray="14.2 11.7" stroke-dashoffset="7.7"/><rect x="649.4" y="401.8" width="372" height="258.8" rx="40" fill="none" stroke="#ff0000" stroke-width="3.8" stroke-dasharray="14.2 11.7" stroke-dashoffset="7.7"/><g filter="url(#afmMap)"><polygon points="797.5,16.6 799.2,21.1 801.0,17.5 802.7,24.8 804.4,22.7 806.2,27.3 807.9,26.8 809.6,29.5 811.4,29.2 813.1,32.9 814.8,32.4 816.6,36.0 818.3,35.9 820.0,37.9 821.8,38.6 823.5,41.4 825.2,40.0 827.0,43.8 828.7,43.0 830.4,46.8 832.2,45.4 833.9,49.1 835.6,48.1 837.4,52.0 839.1,52.5 840.8,55.4 842.6,52.4 844.3,58.0 846.0,54.2 847.8,60.5 849.5,59.5 851.2,63.3 853.0,62.2 854.7,66.4 856.4,66.9 858.2,68.9 859.9,67.1 861.6,71.6 863.4,72.4 865.1,74.8 866.9,75.3 868.6,77.4 870.3,77.4 872.1,79.6 873.8,80.0 875.5,82.4 877.3,83.0 879.0,85.9 880.7,82.9 882.5,88.3 884.2,86.0 885.9,91.3 887.7,89.6 889.4,94.5 891.1,93.3 892.9,97.3 894.6,94.2 896.3,99.9 898.1,100.4 899.8,102.0 901.5,103.1 903.3,105.1 905.0,101.3 906.7,108.5 908.5,104.7 910.2,110.4 911.9,108.1 913.7,114.0 915.4,110.4 917.1,116.8 918.9,116.5 920.6,118.8 922.3,116.1 924.1,122.3 925.8,118.3 927.5,124.7 929.3,121.2 931.0,127.0 931.0,130.0 931.0,130.5 929.3,135.2 927.6,135.8 926.0,137.2 924.3,136.0 922.6,140.4 920.9,140.9 919.2,143.0 917.6,141.7 915.9,145.8 914.2,147.1 912.5,148.4 910.8,150.3 909.2,151.5 907.5,150.8 905.8,154.2 904.1,156.2 902.4,158.1 900.8,156.9 899.1,159.9 897.4,160.9 895.7,163.8 894.1,161.6 892.4,166.3 890.7,167.3 889.0,169.0 887.3,169.2 885.7,172.3 884.0,171.0 882.3,174.5 880.6,175.3 878.9,177.7 877.3,177.7 875.6,180.3 873.9,181.9 872.2,183.1 870.5,183.9 868.9,186.8 867.2,185.9 865.5,188.6 863.8,188.2 862.1,191.5 860.5,190.8 858.8,194.4 857.1,194.3 855.4,197.6 853.7,197.5 852.1,200.9 850.4,201.2 848.7,203.8 847.0,203.0 845.3,206.6 843.7,206.5 842.0,208.8 840.3,209.3 838.6,211.9 836.9,212.6 835.3,215.3 833.6,214.1 831.9,217.8 830.2,217.7 828.6,220.5 826.9,219.2 825.2,223.0 823.5,225.2 821.8,226.8 820.2,226.2 818.5,229.6 816.8,228.5 815.1,232.5 813.4,233.7 811.8,235.5 810.1,234.9 808.4,238.6 806.7,239.3 805.0,240.3 803.4,240.5 801.7,243.7 800.0,242.9 798.3,243.9 796.6,239.7 794.9,241.2 793.2,239.2 791.5,237.5 789.8,235.8 788.2,235.0 786.5,232.8 784.8,232.7 783.1,231.1 781.4,230.0 779.7,226.2 778.0,227.1 776.3,222.7 774.6,224.3 772.9,220.8 771.2,220.9 769.5,217.4 767.8,218.0 766.2,216.4 764.5,215.0 762.8,211.7 761.1,212.3 759.4,208.7 757.7,210.2 756.0,207.3 754.3,207.3 752.6,205.5 750.9,204.2 749.2,199.8 747.5,201.0 745.8,198.6 744.2,198.9 742.5,197.1 740.8,195.8 739.1,192.0 737.4,193.1 735.7,191.5 734.0,189.9 732.3,188.7 730.6,187.9 728.9,184.7 727.2,184.5 725.5,180.4 723.8,181.2 722.2,177.3 720.5,179.0 718.8,176.7 717.1,176.7 715.4,173.5 713.7,173.9 712.0,170.0 710.3,169.9 708.6,166.0 706.9,167.3 705.2,164.8 703.5,165.4 701.8,161.2 700.2,161.6 698.5,159.8 696.8,159.0 695.1,156.4 693.4,155.9 691.7,154.6 690.0,154.0 688.3,151.4 686.6,151.2 684.9,147.2 683.2,147.2 681.5,144.3 679.8,145.5 678.2,142.0 676.5,141.8 674.8,138.1 673.1,138.9 671.4,136.3 669.7,137.1 668.0,135.0 668.0,131.8 668.0,124.1 669.7,128.0 671.4,121.9 673.1,124.4 674.8,118.9 676.5,121.6 678.2,117.3 679.9,118.5 681.6,112.6 683.3,115.7 685.0,111.2 686.7,113.5 688.4,108.1 690.2,110.7 691.9,106.6 693.6,107.9 695.3,100.9 697.0,104.9 698.7,97.8 700.4,102.3 702.1,99.5 703.8,99.2 705.5,96.5 707.2,96.3 708.9,92.2 710.6,93.7 712.3,91.0 714.0,90.9 715.7,88.1 717.4,87.0 719.1,85.5 720.8,84.2 722.5,77.7 724.2,82.2 725.9,75.2 727.6,78.5 729.3,73.4 731.0,76.4 732.8,70.4 734.5,72.9 736.2,66.3 737.9,70.6 739.6,64.8 741.3,67.2 743.0,63.4 744.7,64.9 746.4,59.9 748.1,61.7 749.8,55.1 751.5,58.7 753.2,52.5 754.9,55.4 756.6,51.3 758.3,53.3 760.0,51.0 761.7,50.5 763.4,46.8 765.1,47.5 766.8,42.2 768.5,44.0 770.2,37.7 771.9,41.3 773.6,38.9 775.3,38.7 777.1,36.4 778.8,35.4 780.5,30.0 782.2,32.5 783.9,28.3 785.6,30.6 787.3,25.8 789.0,27.6 790.7,21.1 792.4,24.0 794.1,22.0 795.8,21.9" fill="rgb(100,100,100)"/><rect x="777.5" y="46.5" width="47" height="42" rx="9" fill="url(#sqG)"/><rect x="709.5" y="105.5" width="48" height="44.69999999999999" rx="9" fill="url(#sqG)"/><rect x="843.1" y="110.0" width="48.39999999999998" height="40.19999999999999" rx="9" fill="url(#sqG)"/><rect x="776.3" y="164.2" width="46.700000000000045" height="41.30000000000001" rx="9" fill="url(#sqG)"/></g><rect x="952.05" y="44.05" width="18.2" height="168" fill="url(#cbar)" stroke="#000" stroke-width="1.9"/><g filter="url(#afmMap)"><polygon points="798.3,415.2 800.0,421.2 801.7,419.8 803.5,423.4 805.2,421.2 806.9,427.2 808.6,425.3 810.4,429.8 812.1,430.0 813.8,432.3 815.5,432.0 817.3,435.0 819.0,432.8 820.7,438.3 822.4,436.0 824.2,441.1 825.9,439.8 827.6,443.0 829.3,441.9 831.0,446.5 832.8,443.5 834.5,448.5 836.2,448.6 837.9,451.6 839.7,450.3 841.4,455.1 843.1,454.1 844.8,456.9 846.6,453.8 848.3,460.7 850.0,457.2 851.7,462.5 853.4,462.6 855.2,465.5 856.9,462.1 858.6,468.2 860.3,468.9 862.1,471.2 863.8,468.3 865.5,473.9 867.2,470.2 869.0,476.9 870.7,474.7 872.4,479.5 874.1,479.3 875.9,483.2 877.6,478.5 879.3,485.2 881.0,484.6 882.7,487.8 884.5,488.2 886.2,491.0 887.9,489.3 889.6,494.0 891.4,493.0 893.1,496.3 894.8,494.8 896.5,499.4 898.3,498.6 900.0,502.9 901.7,500.2 903.4,504.6 905.1,501.2 906.9,508.5 908.6,506.8 910.3,511.3 912.0,511.0 913.8,514.1 915.5,513.5 917.2,516.8 918.9,513.8 920.7,519.7 922.4,518.5 924.1,522.2 925.8,518.1 927.6,524.3 929.3,524.7 931.0,527.0 931.0,529.5 931.0,530.8 929.3,533.1 927.7,532.1 926.0,535.9 924.3,536.0 922.7,539.7 921.0,539.3 919.3,542.6 917.7,540.8 916.0,544.8 914.4,545.5 912.7,547.9 911.0,546.7 909.4,550.7 907.7,551.7 906.0,554.8 904.4,554.1 902.7,556.5 901.0,556.1 899.4,560.3 897.7,561.0 896.0,562.6 894.4,562.8 892.7,565.3 891.1,566.0 889.4,569.2 887.7,568.8 886.1,572.2 884.4,570.9 882.7,574.9 881.1,574.6 879.4,577.8 877.7,576.2 876.1,580.5 874.4,581.0 872.7,583.2 871.1,583.7 869.4,585.9 867.7,586.2 866.1,590.0 864.4,589.9 862.8,592.4 861.1,593.5 859.4,595.5 857.8,595.3 856.1,598.1 854.4,599.4 852.8,601.2 851.1,601.1 849.4,603.9 847.8,602.9 846.1,606.6 844.4,607.3 842.8,610.0 841.1,610.8 839.4,612.8 837.8,612.5 836.1,615.9 834.5,615.0 832.8,619.4 831.1,619.2 829.5,621.5 827.8,621.7 826.1,625.1 824.5,626.1 822.8,627.9 821.1,628.8 819.5,630.9 817.8,630.1 816.1,633.4 814.5,633.3 812.8,635.8 811.2,636.7 809.5,639.4 807.8,640.3 806.2,642.1 804.5,643.8 802.8,645.5 801.2,645.4 799.5,645.8 797.8,647.3 796.1,644.4 794.5,644.0 792.8,639.9 791.1,640.6 789.4,637.1 787.8,638.7 786.1,635.0 784.4,635.5 782.7,633.0 781.1,632.8 779.4,628.8 777.7,629.2 776.0,628.2 774.3,626.2 772.7,625.4 771.0,623.7 769.3,619.3 767.6,620.7 766.0,618.9 764.3,618.0 762.6,614.0 760.9,614.7 759.2,610.8 757.6,612.5 755.9,609.0 754.2,609.8 752.5,605.4 750.9,606.4 749.2,603.9 747.5,603.6 745.8,601.5 744.2,600.6 742.5,598.8 740.8,598.3 739.1,594.9 737.4,595.5 735.8,591.8 734.1,592.9 732.4,590.2 730.7,589.2 729.1,587.7 727.4,586.8 725.7,584.9 724.0,584.1 722.3,582.2 720.7,581.0 719.0,577.5 717.3,578.4 715.6,576.5 714.0,575.2 712.3,573.0 710.6,572.5 708.9,568.9 707.3,569.1 705.6,567.0 703.9,566.2 702.2,563.5 700.5,564.1 698.9,560.4 697.2,560.8 695.5,559.5 693.8,558.2 692.2,555.2 690.5,554.8 688.8,553.1 687.1,552.1 685.4,550.1 683.8,550.0 682.1,547.6 680.4,546.2 678.7,545.1 677.1,543.9 675.4,539.7 673.7,540.3 672.0,537.1 670.4,538.1 668.7,535.0 667.0,535.0 667.0,532.7 667.0,530.3 667.0,528.0 668.7,527.7 670.4,524.8 672.1,524.8 673.8,519.9 675.5,521.9 677.2,515.5 678.9,518.9 680.6,514.8 682.3,515.9 684.1,512.8 685.8,512.7 687.5,510.9 689.2,510.0 690.9,503.7 692.6,507.6 694.3,505.0 696.0,504.3 697.7,500.3 699.4,501.7 701.1,497.1 702.8,499.3 704.5,495.9 706.2,496.2 707.9,490.8 709.6,492.6 711.3,490.4 713.0,489.9 714.7,485.3 716.5,488.0 718.2,481.1 719.9,485.1 721.6,480.0 723.3,482.0 725.0,476.6 726.7,478.8 728.4,474.6 730.1,475.8 731.8,472.5 733.5,473.2 735.2,466.6 736.9,470.2 738.6,466.1 740.3,467.2 742.0,465.4 743.7,464.9 745.4,459.9 747.1,462.1 748.8,455.1 750.6,459.2 752.3,454.1 754.0,456.9 755.7,453.7 757.4,453.9 759.1,450.9 760.8,451.2 762.5,444.9 764.2,448.2 765.9,441.6 767.6,444.5 769.3,442.6 771.0,442.2 772.7,439.9 774.4,439.9 776.1,436.5 777.8,436.3 779.5,430.9 781.2,433.3 783.0,427.4 784.7,430.7 786.4,426.2 788.1,428.5 789.8,425.7 791.5,425.0 793.2,421.3 794.9,422.7 796.6,419.0" fill="rgb(110,110,110)"/><rect x="777" y="447" width="48" height="43" rx="10" fill="rgb(72,72,72)"/><rect x="709" y="506" width="49" height="45.69999999999999" rx="10" fill="rgb(72,72,72)"/><rect x="842.6" y="510.5" width="49.39999999999998" height="41.19999999999999" rx="10" fill="rgb(72,72,72)"/><rect x="775.8" y="564.7" width="47.700000000000045" height="42.30000000000001" rx="10" fill="rgb(72,72,72)"/></g><rect x="952.05" y="444.55" width="18.2" height="168" fill="url(#cbar)" stroke="#000" stroke-width="1.9"/><path d="M660.4,142.2 L785.5,248.6 M664.805571537431,137.02014098371603 L655.994428462569,147.37985901628394 M789.905571537431,243.42014098371604 L781.094428462569,253.77985901628395" stroke="#000" stroke-width="2.7" fill="none"/><path d="M811.3,249 L939,142.5 M806.9447351997405,243.77777169020533 L815.6552648002594,254.22222830979467 M934.6447351997406,137.27777169020533 L943.3552648002594,147.72222830979467" stroke="#000" stroke-width="2.7" fill="none"/><path d="M660.4,542.2 L785.5,648.6 M664.805571537431,537.020140983716 L655.994428462569,547.3798590162841 M789.905571537431,643.420140983716 L781.094428462569,653.779859016284" stroke="#000" stroke-width="2.7" fill="none"/><path d="M811.3,649.1 L939,542.2 M806.9351098767701,643.8858141371707 L815.6648901232298,654.3141858628294 M934.6351098767701,536.9858141371707 L943.3648901232299,547.4141858628294" stroke="#000" stroke-width="2.7" fill="none"/><g font-family="Liberation Sans, sans-serif" fill="#000"><text x="942" y="33.4" font-size="19.6" textLength="61" lengthAdjust="spacingAndGlyphs">1.5 nm</text><text x="959.3" y="235.8" font-size="19.6" textLength="43.4" lengthAdjust="spacingAndGlyphs">0 nm</text><text x="676.4" y="210" font-size="14.5" textLength="43" lengthAdjust="spacingAndGlyphs">20 μm</text><text x="876" y="210" font-size="14.5" textLength="43" lengthAdjust="spacingAndGlyphs">20 μm</text><text x="942" y="433.6" font-size="19.6" textLength="61" lengthAdjust="spacingAndGlyphs">1.5 nm</text><text x="959.3" y="637" font-size="19.6" textLength="43.4" lengthAdjust="spacingAndGlyphs">0 nm</text><text x="676.4" y="609" font-size="14.5" textLength="43" lengthAdjust="spacingAndGlyphs">20 μm</text><text x="876" y="609" font-size="14.5" textLength="43" lengthAdjust="spacingAndGlyphs">20 μm</text></g></svg></body></html>
